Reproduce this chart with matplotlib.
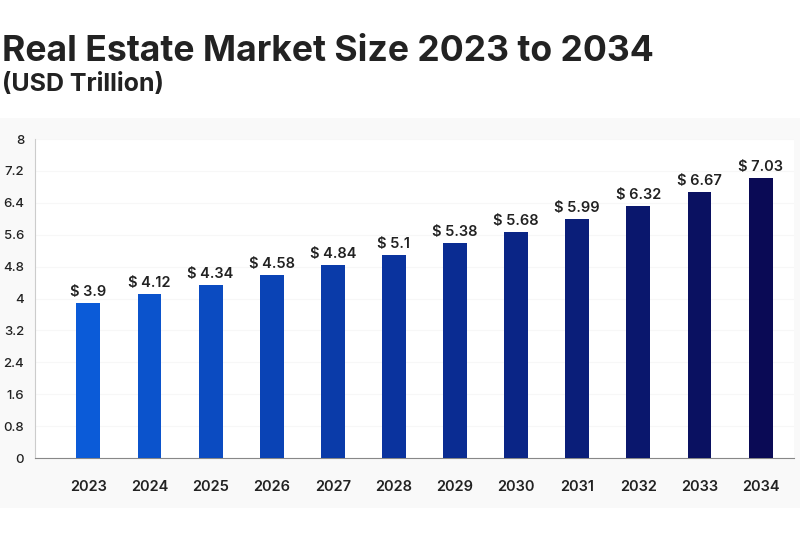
import matplotlib
matplotlib.use("Agg")
import matplotlib.pyplot as plt
from matplotlib.colors import LinearSegmentedColormap
from matplotlib.patches import Rectangle

years = ["2023", "2024", "2025", "2026", "2027", "2028",
         "2029", "2030", "2031", "2032", "2033", "2034"]
valores = [3.9, 4.12, 4.34, 4.58, 4.84, 5.1, 5.38, 5.68, 5.99, 6.32, 6.67, 7.03]
etiquetas = ["$ 3.9", "$ 4.12", "$ 4.34", "$ 4.58", "$ 4.84", "$ 5.1",
             "$ 5.38", "$ 5.68", "$ 5.99", "$ 6.32", "$ 6.67", "$ 7.03"]
y_ticks = [0, 0.8, 1.6, 2.4, 3.2, 4, 4.8, 5.6, 6.4, 7.2, 8]
y_tick_labels = ["0", "0.8", "1.6", "2.4", "3.2", "4", "4.8", "5.6", "6.4", "7.2", "8"]

plt.rcParams['font.family'] = ['Inter', 'DejaVu Sans']

fig = plt.figure(figsize=(8, 5.43), dpi=100)
fig.patch.set_facecolor('white')

# panel gris claro detras del grafico
fig.patches.append(Rectangle((0, 0.0645), 1, 0.7182, transform=fig.transFigure,
                             facecolor='#f9f9f9', edgecolor='none', zorder=-5))

ax = fig.add_axes([0.044, 0.1565, 0.948, 0.5875])
ax.set_facecolor('white')

cmap = LinearSegmentedColormap.from_list("azules", ["#0b5bd8", "#0a2f98", "#0a0a55"])
n = len(valores)
colores = [cmap(i / (n - 1)) for i in range(n)]

x = list(range(n))
ax.bar(x, valores, width=0.39, color=colores, zorder=3)

for xi, v, t in zip(x, valores, etiquetas):
    ax.text(xi, v + 0.1, t, ha='center', va='bottom', fontsize=10.5,
            fontweight='semibold', color='#222222')

ax.set_ylim(0, 8)
ax.set_xlim(-0.87, n - 1 + 0.54)
ax.set_yticks(y_ticks)
ax.set_yticklabels(y_tick_labels)
ax.set_xticks(x)
ax.set_xticklabels(years)
ax.tick_params(axis='y', length=0, pad=8, labelsize=9.5, labelcolor='#222222')
ax.tick_params(axis='x', length=0, pad=16, labelsize=10.5, labelcolor='#222222')
for lbl in ax.get_yticklabels():
    lbl.set_fontweight('medium')
for lbl in ax.get_xticklabels():
    lbl.set_fontweight('semibold')

ax.grid(axis='y', color='#f7f7f7', linewidth=0.8, zorder=0)
ax.spines['top'].set_visible(False)
ax.spines['right'].set_visible(False)
ax.spines['left'].set_color('#cccccc')
ax.spines['bottom'].set_color('#888888')

fig.text(0.003, 0.888, "Real Estate Market Size 2023 to 2034", fontsize=25.6,
         fontweight='bold', color='#222222', va='baseline')
fig.text(0.003, 0.832, "(USD Trillion)", fontsize=18,
         fontweight='bold', color='#222222', va='baseline')

fig.savefig("out.png", dpi=100, facecolor=fig.get_facecolor())
